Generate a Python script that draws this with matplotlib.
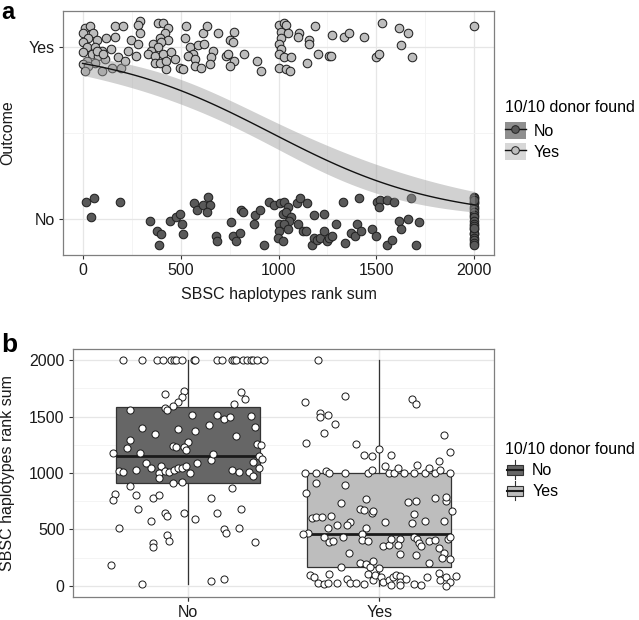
import numpy as np
import matplotlib
matplotlib.use('Agg')
import matplotlib.pyplot as plt
from matplotlib.patches import Patch, Rectangle
from matplotlib.lines import Line2D
from matplotlib.legend_handler import HandlerTuple, HandlerBase
from matplotlib.ticker import MultipleLocator, FixedLocator

plt.rcParams['font.family'] = ['Liberation Sans', 'DejaVu Sans']
FS = 11.5

# ---------------- Panel a data: rank sum (x) and vertical jitter, by outcome ----------------
a_yes_rank = [12, 37, 3, 54, 29, 71, 0, 20, 63, 97, 3, 46, 80, 114, 20, 63, 3, 29, 97, 12,
              148, 198, 71, 105, 165, 207, 122, 165, 249, 292, 283, 292, 283, 144, 232, 181, 215, 275,
              385, 410, 436, 419, 393, 436, 360, 402, 385, 351, 334, 368, 410, 453, 368, 393, 427, 470,
              427, 495, 512, 529, 521, 546, 589, 622, 614, 634, 563, 538, 572, 665, 656, 648, 572, 605,
              690, 750, 775, 767, 733, 741, 775, 750, 823, 890, 911,
              1004, 1029, 1038, 1013, 1046, 1013, 1004, 1013, 1004, 1029, 1063, 1004, 1038, 1060,
              1106, 1101, 1157, 1157, 1148, 1186, 1203, 1258, 1275, 1267, 1335, 1360, 1437, 1530,
              1615, 1660, 1623, 1496, 1513, 1683, 2000]
a_yes_jitter = [.11, .12, .08, .08, .05, .04, .03, 0, 0, -.02, -.03, -.04, -.05, -.07, -.08, -.09, -.10, -.11, -.14, -.14,
                -.12, -.12, -.02, -.04, .12, .12, .05, .06, .04, .15, .13, .08, .02, -.01, -.02, -.06, -.08, -.05,
                .14, .14, .11, .08, .05, .04, .02, .03, 0, -.02, -.04, -.05, -.04, -.03, -.09, -.09, -.08, -.07,
                -.13, -.12, -.13, .12, .05, 0, .01, .02, .08, .12, -.04, -.05, -.07, -.02, -.06, -.10, -.11, -.12,
                .08, .04, .09, .03, -.05, -.04, -.08, -.11, -.04, -.08, -.14,
                .13, .14, .13, .09, .08, .05, .02, -.01, -.04, -.06, -.06, -.12, -.13, -.14,
                .08, .06, .04, .02, -.09, .12, -.04, -.05, .07, -.05, .06, .08, .06, .14,
                .11, .08, .01, -.06, -.04, -.06, .12]

a_no_rank = [15, 58, 42, 190, 343, 382, 399, 388, 444, 478, 499, 509, 512, 568, 583, 614, 639, 648, 634,
             682, 687, 758, 767, 783, 804, 809, 817, 873, 882, 906, 924, 953, 979, 1009, 1026, 1046, 1021,
             1038, 1063, 1055, 1004, 1026, 1004, 999, 1021, 1046, 1094, 1111, 1148, 1097, 1123, 1140, 1179,
             1230, 1170, 1182, 1199, 1213, 1233, 1250, 1258, 1275, 1292, 1331, 1411, 1340, 1369, 1389, 1399,
             1423, 1479, 1496, 1504, 1518, 1513, 1555, 1589, 1555, 1581, 1615, 1627, 1660, 1674, 1716, 1704,
             2000, 2000, 2000, 2000, 2000, 2000, 2000, 2000, 2000, 2000, 2000, 2000, 2000, 2000, 2000,
             2000, 2000, 2000, 2000, 2000, 2000]
a_no_jitter = [.10, .12, .01, .10, -.01, -.07, -.09, -.15, -.01, .01, .03, -.03, -.09, .09, .05, .08, .13, .08, .04,
               -.10, -.13, -.02, -.10, -.13, -.08, .05, .04, -.03, .02, .05, -.15, .10, .08, .09, .10, .07, .03,
               .04, .01, -.01, -.03, -.03, -.07, -.11, -.13, -.06, .09, .12, .09, -.03, -.07, -.07, .02,
               .03, -.15, -.11, -.12, -.11, -.07, -.13, -.11, -.10, -.03, .10, .12, -.14, -.08, -.10, -.03,
               -.07, -.06, -.10, .10, .11, .07, .11, .10, -.15, -.12, -.01, -.06, 0, .12, -.02, -.15,
               .13, .12, .10, .09, .07, .06, .04, .02, .01, -.01, -.03, -.04, -.06, -.08, -.09,
               -.11, -.12, -.14, -.15, .11, -.05]

# ---------------- Panel b data: rank sum (y) and horizontal jitter, by donor found ----------------
b_no_rank = [2000] * 21 + [
    1704, 1725, 1674, 1630, 1592, 1580, 1556, 1556, 1512, 1512, 1477, 1497, 1615, 1719, 1660, 1503, 1409,
    1400, 1388, 1370, 1344, 1424, 1332, 1291, 1223, 1276, 1241, 1232, 1232, 1208, 1261, 1252,
    1178, 1181, 1119, 1166, 1093, 1099, 1149, 1128, 1048, 1093, 1019, 1010, 1031, 1040, 1060, 1004, 957,
    1019, 1010, 1025, 1045, 1048, 1060, 1004, 1025, 1010, 1010, 975, 907, 921, 883, 818, 759, 809, 780,
    803, 871, 774, 685, 641, 617, 647, 647, 685, 573, 588, 508, 502, 470, 508, 449, 399, 381, 340, 390,
    183, 15, 42, 60]
b_no_jitter = [-.34, -.24, -.16, -.13, -.09, -.07, -.06, -.03, .03, .04, .15, .18, .23, .24, .25, .29, .31, .33,
               .34, .36, .40,
               -.12, -.02, -.03, -.05, -.08, -.12, -.11, -.30, .02, .15, .19, .22, .24, .28, .30, .33, .35,
               -.24, -.05, .04, -.17, .11, .25, -.30, -.32, 0, -.08, -.06, -.02, -.01, .36, .38,
               -.39, -.25, .12, .13, .05, .34, .37, .39, .37, -.22, -.36, -.34, -.27, -.19, -.14, -.15, -.15,
               -.12, -.10, -.07, -.05, -.03, -.01, .01, .23, .27, .32, .34, -.08, -.03, -.30, -.38, -.39, -.27, -.18,
               -.15, .23, .12, -.26, -.12, -.11, -.02, .15, .28, -.19, .04, -.36, .19, .20, .27, -.11, -.10, -.18, -.18, .35,
               -.40, -.24, .12, .19]

b_yes_rank = [2000, 1630, 1680, 1533, 1497, 1512, 1438, 1359, 1270, 1261, 1217, 1660, 1615, 1335, 1188,
              1158, 1149, 1158, 1107,
              1004, 1004, 1019, 1004, 1004, 1004, 1031, 1060, 1004, 1004, 1040, 1004, 1069, 1004, 1004, 1048,
              1004, 1025, 1004,
              907, 824, 892, 735, 765, 685, 671, 647, 665, 744, 750, 780, 753, 783, 662, 635, 597, 606, 612,
              617, 567, 538, 567, 553, 573, 573, 538, 508, 508, 470, 458, 429, 390, 399, 434, 455, 405, 399,
              352, 361, 411, 411, 361, 278, 434, 411, 381, 352, 396, 405, 331, 287, 414, 434, 293, 272, 204,
              243, 234, 204, 192, 169, 222, 154, 169, 95, 74, 27, 15, 21, 101, 27, 56, 21, 21, 15, 104, 51,
              95, 74, 36, 51, 6, 80, 95, 86, 36, 6, 56, 15, 6, 80, 116, 51, 80, 36, 0, 86]
b_yes_jitter = [-.32, -.39, -.18, -.31, -.31, -.27, -.23, -.29, -.38, -.12, 0, .17, .19, .34, .37,
                -.08, -.04, .06, .31,
                -.39, -.33, -.28, -.26, -.18, -.06, -.04, .03, .05, .08, .10, .13, .20, .18, .24, .26,
                .29, .32, .37,
                -.33, -.38, -.18, -.20, -.07, -.10, -.08, -.04, -.03, .15, .19, .29, .35, .35, .38, .18, -.35, -.33, -.30,
                -.25, -.15, -.17, .03, .17, .24, .34, -.22, -.27, -.07, -.37, -.40, -.29, -.26, -.24, -.19, -.09, -.09, -.06,
                .02, .05, .06, .11, .10, .11, .18, .20, .21, .22, .26, .29, .31, .34, .36, .37, -.16, .19, .26,
                .33, .37, -.10, -.07, -.05, -.03, 0, -.20, -.36, -.34, -.32, -.29, -.27, -.26, -.22, -.17, -.15, -.12, -.08, -.06, -.03,
                -.02, .01, .02, .05, .06, .07, .09, .11, .11, .11, .14, .18, .22, .25, .31, .32, .35, .37, .35, .40]

# box statistics
b_groups = ['No', 'Yes']
b_q1 = [912, 163]
b_median = [1149, 455]
b_q3 = [1586, 1004]
b_whislo = [15, 0]
b_whishi = [2000, 2000]

legend_title = '10/10 donor found'

# ---------------- figure ----------------
W, H = 639, 620
fig = plt.figure(figsize=(W / 100, H / 100), dpi=100)


def px_axes(l, t, r, b):
    return fig.add_axes([l / W, 1 - b / H, (r - l) / W, (b - t) / H])


def style(ax):
    ax.set_facecolor('white')
    for s in ax.spines.values():
        s.set_color('#7f7f7f')
        s.set_linewidth(0.9)
    ax.grid(True, which='major', color='#e6e6e6', lw=0.9, zorder=0)
    ax.grid(True, which='minor', color='#f3f3f3', lw=0.6, zorder=0)
    ax.set_axisbelow(True)
    ax.tick_params(which='major', length=3, width=0.8, color='#333333', pad=3,
                   labelsize=FS, labelcolor='#1a1a1a')
    ax.tick_params(which='minor', length=0)


# ---------- panel a ----------
axA = px_axes(63, 11, 494, 255)
style(axA)
axA.set_xlim(-100, 2100)
axA.set_ylim(-0.21, 1.21)
axA.xaxis.set_major_locator(MultipleLocator(500))
axA.xaxis.set_minor_locator(MultipleLocator(250))
axA.yaxis.set_major_locator(FixedLocator([0, 1]))
axA.yaxis.set_minor_locator(FixedLocator([0.5]))
axA.set_yticklabels(['No', 'Yes'])

c_no_a, c_yes_a = '#595959', '#bdbdbd'
a_yes_rank_arr = np.array(a_yes_rank, float)
a_no_rank_arr = np.array(a_no_rank, float)
axA.scatter(a_no_rank_arr, 0 + np.array(a_no_jitter), s=38, c=c_no_a, edgecolors='#222222',
            linewidths=0.75, zorder=3)
axA.scatter(a_yes_rank_arr, 1 + np.array(a_yes_jitter), s=38, c=c_yes_a, edgecolors='#222222',
            linewidths=0.75, zorder=3)

# logistic regression (binomial glm) of donor found on rank sum, fitted to the full
# set of rank sums (panel b values), as geom_smooth(method='glm') does
xall = np.concatenate([np.array(b_no_rank, float), np.array(b_yes_rank, float)])
yall = np.concatenate([np.zeros(len(b_no_rank)), np.ones(len(b_yes_rank))])
X = np.column_stack([np.ones_like(xall), xall])
beta = np.zeros(2)
for _ in range(50):
    eta = X @ beta
    p = 1 / (1 + np.exp(-eta))
    w = p * (1 - p)
    z = eta + (yall - p) / w
    beta = np.linalg.solve(X.T @ (X * w[:, None]), X.T @ (w * z))
eta = X @ beta
p = 1 / (1 + np.exp(-eta))
w = p * (1 - p)
cov = np.linalg.inv(X.T @ (X * w[:, None]))
xg = np.linspace(xall.min(), xall.max(), 80)
Xg = np.column_stack([np.ones_like(xg), xg])
eg = Xg @ beta
se = np.sqrt(np.sum((Xg @ cov) * Xg, axis=1))
inv = lambda e: 1 / (1 + np.exp(-e))
axA.fill_between(xg, inv(eg - 1.96 * se), inv(eg + 1.96 * se), color='#999999', alpha=0.45,
                 lw=0, zorder=4)
axA.plot(xg, inv(eg), color='#111111', lw=1.0, zorder=5)

fig.text(278.5 / W, 1 - 299 / H, 'SBSC haplotypes rank sum', ha='center', va='baseline',
         fontsize=FS, color='#1a1a1a')
fig.text(8 / W, 1 - 133 / H, 'Outcome', ha='center', va='center', rotation=90,
         fontsize=FS, color='#1a1a1a')
fig.text(1 / W, 1 - 19 / H, 'a', ha='left', va='baseline', fontsize=17, fontweight='bold')

hA = [(Patch(facecolor='#8f8f8f', edgecolor='none'),
       Line2D([], [], color='#111111', lw=1, marker='o', ms=5.5, markerfacecolor=c_no_a,
              markeredgecolor='#222222', markeredgewidth=0.7)),
      (Patch(facecolor='#d7d7d7', edgecolor='none'),
       Line2D([], [], color='#111111', lw=1, marker='o', ms=5.5, markerfacecolor=c_yes_a,
              markeredgecolor='#222222', markeredgewidth=0.7))]
legA = fig.legend(hA, ['No', 'Yes'], handler_map={tuple: HandlerTuple(ndivide=1)},
                  loc='upper left', bbox_to_anchor=(505 / W, 1 - 100 / H), frameon=False,
                  title=legend_title, fontsize=FS, title_fontsize=FS, borderpad=0,
                  borderaxespad=0, handlelength=1.3, handleheight=1.3, labelspacing=0.2,
                  handletextpad=0.5, alignment='left')
legA._legend_box.sep = 5

# ---------- panel b ----------
axB = px_axes(73, 349, 494, 597)
style(axB)
axB.set_xlim(-0.6, 1.6)
axB.set_ylim(-100, 2100)
axB.yaxis.set_major_locator(MultipleLocator(500))
axB.yaxis.set_minor_locator(MultipleLocator(250))
axB.xaxis.set_major_locator(FixedLocator([0, 1]))
axB.set_xticklabels(b_groups)

fills_b = ['#666666', '#bdbdbd']
stats = [dict(med=b_median[i], q1=b_q1[i], q3=b_q3[i], whislo=b_whislo[i], whishi=b_whishi[i],
              fliers=[], label=b_groups[i]) for i in range(2)]
bp = axB.bxp(stats, positions=[0, 1], widths=0.75, patch_artist=True, showfliers=False,
             showcaps=False,
             boxprops=dict(edgecolor='#333333', linewidth=0.9),
             medianprops=dict(color='#1a1a1a', linewidth=2.0),
             whiskerprops=dict(color='#333333', linewidth=0.9), zorder=2)
for patch, fc in zip(bp['boxes'], fills_b):
    patch.set_facecolor(fc)

axB.scatter(0 + np.array(b_no_jitter), b_no_rank, s=26, facecolors='white', edgecolors='#1a1a1a',
            linewidths=0.7, zorder=3)
axB.scatter(1 + np.array(b_yes_jitter), b_yes_rank, s=26, facecolors='white', edgecolors='#1a1a1a',
            linewidths=0.7, zorder=3)

fig.text(8 / W, 1 - 473 / H, 'SBSC haplotypes rank sum', ha='center', va='center', rotation=90,
         fontsize=FS, color='#1a1a1a')
fig.text(1 / W, 1 - 352 / H, 'b', ha='left', va='baseline', fontsize=19, fontweight='bold')


class BoxHandler(HandlerBase):
    def create_artists(self, legend, orig_handle, xdescent, ydescent, width, height, fontsize, trans):
        fc = orig_handle.get_facecolor()
        x0, y0 = -xdescent, -ydescent
        bx, bw = x0 + 0.08 * width, 0.84 * width
        by, bh = y0 + 0.22 * height, 0.56 * height
        rect = Rectangle((bx, by), bw, bh, facecolor=fc, edgecolor='#333333', lw=0.8, transform=trans)
        med = Line2D([bx, bx + bw], [y0 + height / 2] * 2, color='#1a1a1a', lw=1.5, transform=trans)
        w1 = Line2D([x0 + width / 2] * 2, [y0 - 0.05 * height, by], color='#333333', lw=0.8, transform=trans)
        w2 = Line2D([x0 + width / 2] * 2, [by + bh, y0 + 1.05 * height], color='#333333', lw=0.8, transform=trans)
        return [rect, med, w1, w2]


hB = [Patch(facecolor=fills_b[0]), Patch(facecolor=fills_b[1])]
legB = fig.legend(hB, b_groups, handler_map={Patch: BoxHandler()},
                  loc='upper left', bbox_to_anchor=(505 / W, 1 - 442 / H), frameon=False,
                  title=legend_title, fontsize=FS, title_fontsize=FS, borderpad=0,
                  borderaxespad=0, handlelength=1.2, handleheight=1.3, labelspacing=0.22,
                  handletextpad=0.5, alignment='left')
legB._legend_box.sep = 3

fig.savefig('out.png', dpi=100, facecolor='white')
